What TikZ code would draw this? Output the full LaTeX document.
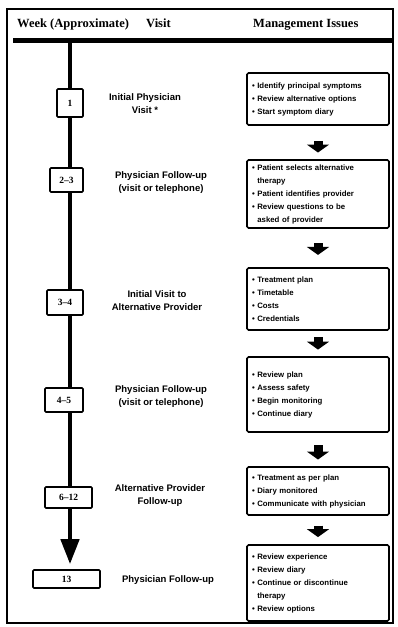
\documentclass[tikz,border=0pt]{standalone}
\usepackage{fontspec}
\setmainfont{Liberation Sans}
\newfontfamily\hdrfont{Liberation Serif}
\usetikzlibrary{arrows.meta,calc}
\newcommand{\itm}{\textbullet\ }
\newcommand{\cnt}{\phantom{\textbullet\ }}
\begin{document}
\begin{tikzpicture}[x=1pt,y=-1pt,
  hdr/.style={inner sep=0pt, font=\hdrfont\bfseries\fontsize{12.5}{14}\selectfont},
  weekbox/.style={draw, line width=1.6pt, fill=white, rounded corners=1pt, inner sep=0pt,
    font=\hdrfont\bfseries\fontsize{9.5}{10}\selectfont},
  visitlbl/.style={align=center, inner sep=0pt, font=\bfseries\fontsize{9.5}{13}\selectfont},
  mgmt/.style={draw, line width=1.6pt, rounded corners=1.5pt, minimum width=142pt,
    text width=132pt, align=left, inner sep=0pt, font=\bfseries\fontsize{7.8}{13}\selectfont},
  blockarrow/.style={line width=9pt, -{Triangle[width=22pt,length=8pt]}},
  timeline/.style={line width=4.5pt, -{Triangle[width=18pt,length=25pt]}},
]
\useasboundingbox (0,0) rectangle (398,627);
\fill[white] (0,0) rectangle (398,627);
% frame and header
\draw[line width=1.4pt] (7,9) rectangle (393,623);
\node[hdr, anchor=base west] (hweek) at (17,27) {Week (Approximate)};
\node[hdr, anchor=base west] (hvisit) at (146,27) {Visit};
\node[hdr, anchor=base west] (hmgmt) at (253,27) {Management Issues};
\coordinate (barl) at (13,40.5);
\coordinate (barr) at (392,40.5);
\draw[line width=5pt] (barl) -- (barr);
\coordinate (tltop) at (70,43);
% week boxes
\node[weekbox, minimum width=26pt, minimum height=28pt] (w1) at (70,103) {1};
\node[weekbox, minimum width=33pt, minimum height=24pt] (w2) at (66.5,180) {2\textendash 3};
\node[weekbox, minimum width=36pt, minimum height=25pt] (w3) at (65,302.5) {3\textendash 4};
\node[weekbox, minimum width=38pt, minimum height=24pt] (w4) at (64,400) {4\textendash 5};
\node[weekbox, minimum width=47pt, minimum height=21pt] (w5) at (68.5,497.5) {6\textendash 12};
\node[weekbox, minimum width=67pt, minimum height=18pt] (w6) at (66.5,579) {13};
% timeline
\draw[line width=4.5pt] (tltop) -- (w1.north -| tltop);
\draw[line width=4.5pt] (w1.south -| tltop) -- (w2.north -| tltop);
\draw[line width=4.5pt] (w2.south -| tltop) -- (w3.north -| tltop);
\draw[line width=4.5pt] (w3.south -| tltop) -- (w4.north -| tltop);
\draw[line width=4.5pt] (w4.south -| tltop) -- (w5.north -| tltop);
\draw[timeline, shorten >=5pt] (w5.south -| tltop) -- (w6.north -| tltop);
% visit labels
\node[visitlbl] (v1) at (145,104) {Initial Physician\\Visit *};
\node[visitlbl] (v2) at (161,183) {Physician Follow-up\\(visit or telephone)};
\node[visitlbl] (v3) at (157,301) {Initial Visit to\\Alternative Provider};
\node[visitlbl] (v4) at (161,397) {Physician Follow-up\\(visit or telephone)};
\node[visitlbl] (v5) at (160,496) {Alternative Provider\\Follow-up};
\node[visitlbl] (v6) at (168,580) {Physician Follow-up};
% management boxes
\node[mgmt, minimum height=52pt] (m1) at (318,99)
  {\itm Identify principal symptoms\\\itm Review alternative options\\\itm Start symptom diary};
\node[mgmt, minimum height=68pt] (m2) at (318,194)
  {\itm Patient selects alternative\\\cnt therapy\\\itm Patient identifies provider\\\itm Review questions to be\\\cnt asked of provider};
\node[mgmt, minimum height=62pt] (m3) at (318,299)
  {\itm Treatment plan\\\itm Timetable\\\itm Costs\\\itm Credentials};
\node[mgmt, minimum height=75pt] (m4) at (318,394.5)
  {\itm Review plan\\\itm Assess safety\\\itm Begin monitoring\\\itm Continue diary};
\node[mgmt, minimum height=48pt] (m5) at (318,491)
  {\itm Treatment as per plan\\\itm Diary monitored\\\itm Communicate with physician};
\node[mgmt, minimum height=76pt] (m6) at (318,583)
  {\itm Review experience\\\itm Review diary\\\itm Continue or discontinue\\\cnt therapy\\\itm Review options};
% arrows between management boxes
\draw[blockarrow] ($(m1.south)!0.45!(m2.north)$) -- ($(m1.south)!0.8!(m2.north)$);
\draw[blockarrow] ($(m2.south)!0.38!(m3.north)$) -- ($(m2.south)!0.68!(m3.north)$);
\draw[blockarrow] ($(m3.south)!0.26!(m4.north)$) -- ($(m3.south)!0.74!(m4.north)$);
\draw[blockarrow] ($(m4.south)!0.37!(m5.north)$) -- ($(m4.south)!0.8!(m5.north)$);
\draw[blockarrow] ($(m5.south)!0.35!(m6.north)$) -- ($(m5.south)!0.75!(m6.north)$);
\end{tikzpicture}
\end{document}
